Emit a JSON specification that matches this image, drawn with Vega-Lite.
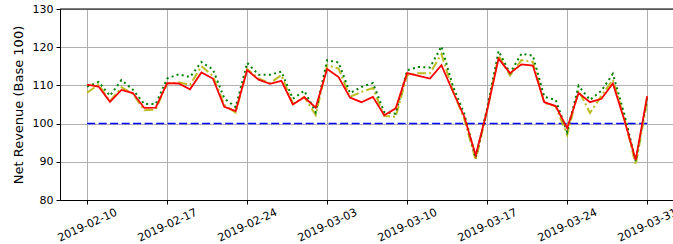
{
  "$schema": "https://vega.github.io/schema/vega-lite/v6.json",
  "autosize": {"type": "none"},
  "padding": {"left": 60, "top": 9, "right": 0, "bottom": 44},
  "width": 613,
  "height": 191,
  "config": {
    "view": {"stroke": null},
    "font": "DejaVu Sans",
    "axis": {
      "labelFont": "DejaVu Sans",
      "labelFontSize": 11,
      "labelColor": "#000000",
      "titleFont": "DejaVu Sans",
      "titleColor": "#000000",
      "domainColor": "#000000",
      "tickColor": "#000000",
      "gridColor": "#b0b0b0",
      "gridWidth": 1,
      "tickSize": 4
    },
    "axisY": {"tickCount": 6, "labelOverlap": false}
  },
  "datasets": {
    "red": [
      {"date": "2019-02-10", "value": 110.2}, {"date": "2019-02-11", "value": 109.7}, {"date": "2019-02-12", "value": 105.7}, {"date": "2019-02-13", "value": 108.8}, {"date": "2019-02-14", "value": 108.0}, {"date": "2019-02-15", "value": 104.1}, {"date": "2019-02-16", "value": 104.2},
      {"date": "2019-02-17", "value": 110.6}, {"date": "2019-02-18", "value": 110.5}, {"date": "2019-02-19", "value": 109.0}, {"date": "2019-02-20", "value": 113.4}, {"date": "2019-02-21", "value": 111.8}, {"date": "2019-02-22", "value": 104.4}, {"date": "2019-02-23", "value": 103.3},
      {"date": "2019-02-24", "value": 114.0}, {"date": "2019-02-25", "value": 111.5}, {"date": "2019-02-26", "value": 110.4}, {"date": "2019-02-27", "value": 111.2}, {"date": "2019-02-28", "value": 105.0}, {"date": "2019-03-01", "value": 106.9}, {"date": "2019-03-02", "value": 104.2},
      {"date": "2019-03-03", "value": 114.3}, {"date": "2019-03-04", "value": 112.2}, {"date": "2019-03-05", "value": 106.8}, {"date": "2019-03-06", "value": 105.6}, {"date": "2019-03-07", "value": 107.0}, {"date": "2019-03-08", "value": 102.2}, {"date": "2019-03-09", "value": 104.0},
      {"date": "2019-03-10", "value": 113.2}, {"date": "2019-03-11", "value": 112.5}, {"date": "2019-03-12", "value": 111.8}, {"date": "2019-03-13", "value": 115.3}, {"date": "2019-03-14", "value": 108.4}, {"date": "2019-03-15", "value": 101.8}, {"date": "2019-03-16", "value": 91.7},
      {"date": "2019-03-17", "value": 103.5}, {"date": "2019-03-18", "value": 117.0}, {"date": "2019-03-19", "value": 113.2}, {"date": "2019-03-20", "value": 115.5}, {"date": "2019-03-21", "value": 115.2}, {"date": "2019-03-22", "value": 105.6}, {"date": "2019-03-23", "value": 104.6},
      {"date": "2019-03-24", "value": 98.8}, {"date": "2019-03-25", "value": 108.0}, {"date": "2019-03-26", "value": 105.6}, {"date": "2019-03-27", "value": 106.5}, {"date": "2019-03-28", "value": 110.5}, {"date": "2019-03-29", "value": 101.0}, {"date": "2019-03-30", "value": 90.5},
      {"date": "2019-03-31", "value": 107.2}
    ],
    "olive": [
      {"date": "2019-02-10", "value": 108.1}, {"date": "2019-02-11", "value": 110.2}, {"date": "2019-02-12", "value": 105.9}, {"date": "2019-02-13", "value": 109.5}, {"date": "2019-02-14", "value": 107.8}, {"date": "2019-02-15", "value": 103.5}, {"date": "2019-02-16", "value": 103.7},
      {"date": "2019-02-17", "value": 110.5}, {"date": "2019-02-18", "value": 110.8}, {"date": "2019-02-19", "value": 110.1}, {"date": "2019-02-20", "value": 115.0}, {"date": "2019-02-21", "value": 112.5}, {"date": "2019-02-22", "value": 104.9}, {"date": "2019-02-23", "value": 102.9},
      {"date": "2019-02-24", "value": 114.3}, {"date": "2019-02-25", "value": 111.8}, {"date": "2019-02-26", "value": 110.6}, {"date": "2019-02-27", "value": 112.7}, {"date": "2019-02-28", "value": 105.2}, {"date": "2019-03-01", "value": 107.0}, {"date": "2019-03-02", "value": 102.2},
      {"date": "2019-03-03", "value": 115.3}, {"date": "2019-03-04", "value": 114.4}, {"date": "2019-03-05", "value": 107.0}, {"date": "2019-03-06", "value": 108.3}, {"date": "2019-03-07", "value": 109.3}, {"date": "2019-03-08", "value": 102.0}, {"date": "2019-03-09", "value": 101.8},
      {"date": "2019-03-10", "value": 112.7}, {"date": "2019-03-11", "value": 113.2}, {"date": "2019-03-12", "value": 113.2}, {"date": "2019-03-13", "value": 118.2}, {"date": "2019-03-14", "value": 108.6}, {"date": "2019-03-15", "value": 101.2}, {"date": "2019-03-16", "value": 90.4},
      {"date": "2019-03-17", "value": 103.5}, {"date": "2019-03-18", "value": 117.8}, {"date": "2019-03-19", "value": 112.6}, {"date": "2019-03-20", "value": 116.6}, {"date": "2019-03-21", "value": 116.2}, {"date": "2019-03-22", "value": 105.4}, {"date": "2019-03-23", "value": 104.5},
      {"date": "2019-03-24", "value": 97.0}, {"date": "2019-03-25", "value": 108.7}, {"date": "2019-03-26", "value": 102.8}, {"date": "2019-03-27", "value": 107.3}, {"date": "2019-03-28", "value": 111.5}, {"date": "2019-03-29", "value": 101.5}, {"date": "2019-03-30", "value": 89.2},
      {"date": "2019-03-31", "value": 106.0}
    ],
    "green": [
      {"date": "2019-02-10", "value": 109.7}, {"date": "2019-02-11", "value": 110.9}, {"date": "2019-02-12", "value": 107.3}, {"date": "2019-02-13", "value": 111.4}, {"date": "2019-02-14", "value": 108.9}, {"date": "2019-02-15", "value": 105.1}, {"date": "2019-02-16", "value": 105.1},
      {"date": "2019-02-17", "value": 111.8}, {"date": "2019-02-18", "value": 112.9}, {"date": "2019-02-19", "value": 112.2}, {"date": "2019-02-20", "value": 116.1}, {"date": "2019-02-21", "value": 114.2}, {"date": "2019-02-22", "value": 106.6}, {"date": "2019-02-23", "value": 104.3},
      {"date": "2019-02-24", "value": 115.9}, {"date": "2019-02-25", "value": 112.8}, {"date": "2019-02-26", "value": 112.8}, {"date": "2019-02-27", "value": 113.6}, {"date": "2019-02-28", "value": 106.5}, {"date": "2019-03-01", "value": 108.6}, {"date": "2019-03-02", "value": 103.0},
      {"date": "2019-03-03", "value": 116.6}, {"date": "2019-03-04", "value": 116.0}, {"date": "2019-03-05", "value": 108.0}, {"date": "2019-03-06", "value": 109.6}, {"date": "2019-03-07", "value": 110.6}, {"date": "2019-03-08", "value": 103.0}, {"date": "2019-03-09", "value": 102.6},
      {"date": "2019-03-10", "value": 114.0}, {"date": "2019-03-11", "value": 114.8}, {"date": "2019-03-12", "value": 114.7}, {"date": "2019-03-13", "value": 120.2}, {"date": "2019-03-14", "value": 109.8}, {"date": "2019-03-15", "value": 102.6}, {"date": "2019-03-16", "value": 91.0},
      {"date": "2019-03-17", "value": 104.0}, {"date": "2019-03-18", "value": 119.0}, {"date": "2019-03-19", "value": 113.2}, {"date": "2019-03-20", "value": 118.3}, {"date": "2019-03-21", "value": 117.8}, {"date": "2019-03-22", "value": 107.0}, {"date": "2019-03-23", "value": 106.2},
      {"date": "2019-03-24", "value": 97.8}, {"date": "2019-03-25", "value": 109.9}, {"date": "2019-03-26", "value": 106.2}, {"date": "2019-03-27", "value": 108.6}, {"date": "2019-03-28", "value": 113.0}, {"date": "2019-03-29", "value": 102.5}, {"date": "2019-03-30", "value": 90.2},
      {"date": "2019-03-31", "value": 106.6}
    ],
    "base": [{"start": "2019-02-10", "end": "2019-03-31", "value": 100}]
  },
  "layer": [
    {
      "data": {"name": "base"},
      "mark": {"type": "rule", "color": "#0000ff", "strokeWidth": 1.5, "strokeDash": [8, 3.5]},
      "encoding": {
        "x": {
          "field": "start", "type": "temporal",
          "scale": {"type": "utc", "domain": [{"year": 2019, "month": 2, "date": 7, "hours": 15, "utc": true}, {"year": 2019, "month": 4, "date": 2, "hours": 6, "minutes": 18, "utc": true}]},
          "axis": {
            "title": null,
            "format": "%Y-%m-%d",
            "values": [
              {"year": 2019, "month": 2, "date": 10, "utc": true},
              {"year": 2019, "month": 2, "date": 17, "utc": true},
              {"year": 2019, "month": 2, "date": 24, "utc": true},
              {"year": 2019, "month": 3, "date": 3, "utc": true},
              {"year": 2019, "month": 3, "date": 10, "utc": true},
              {"year": 2019, "month": 3, "date": 17, "utc": true},
              {"year": 2019, "month": 3, "date": 24, "utc": true},
              {"year": 2019, "month": 3, "date": 31, "utc": true}
            ],
            "labelAngle": -25,
            "labelAlign": "center",
            "labelBaseline": "middle",
            "labelPadding": 21,
            "labelFlush": false,
            "labelOverlap": false,
            "grid": true
          }
        },
        "x2": {"field": "end"},
        "y": {
          "field": "value", "type": "quantitative",
          "scale": {"domain": [80, 130], "nice": false, "zero": false},
          "axis": {
            "title": "Net Revenue (Base 100)",
            "titleFontSize": 13,
            "titleFontWeight": "normal",
            "titleAngle": -90,
            "titleX": -42,
            "titleY": 95.5,
            "titleAlign": "center",
            "titleBaseline": "middle",
            "tickCount": 6,
            "values": [80, 90, 100, 110, 120, 130],
            "labelOverlap": false,
            "labelFlush": false,
            "labelBound": false,
            "labelPadding": 3,
            "grid": true
          }
        }
      }
    },
    {
      "data": {"name": "olive"},
      "mark": {"type": "line", "color": "#bcbd22", "strokeWidth": 2, "strokeDash": [9, 3, 2, 3]},
      "encoding": {
        "x": {"field": "date", "type": "temporal"},
        "y": {"field": "value", "type": "quantitative"}
      }
    },
    {
      "data": {"name": "green"},
      "mark": {"type": "line", "color": "#008000", "strokeWidth": 2, "strokeDash": [2, 3.3]},
      "encoding": {
        "x": {"field": "date", "type": "temporal"},
        "y": {"field": "value", "type": "quantitative"}
      }
    },
    {
      "data": {"name": "red"},
      "mark": {"type": "line", "color": "#ff0000", "strokeWidth": 1.8},
      "encoding": {
        "x": {"field": "date", "type": "temporal"},
        "y": {"field": "value", "type": "quantitative"}
      }
    },
    {
      "data": {"values": [{"t": 130}]},
      "mark": {"type": "rule", "color": "#000000", "strokeWidth": 1},
      "encoding": {"y": {"field": "t", "type": "quantitative"}}
    }
  ]
}
